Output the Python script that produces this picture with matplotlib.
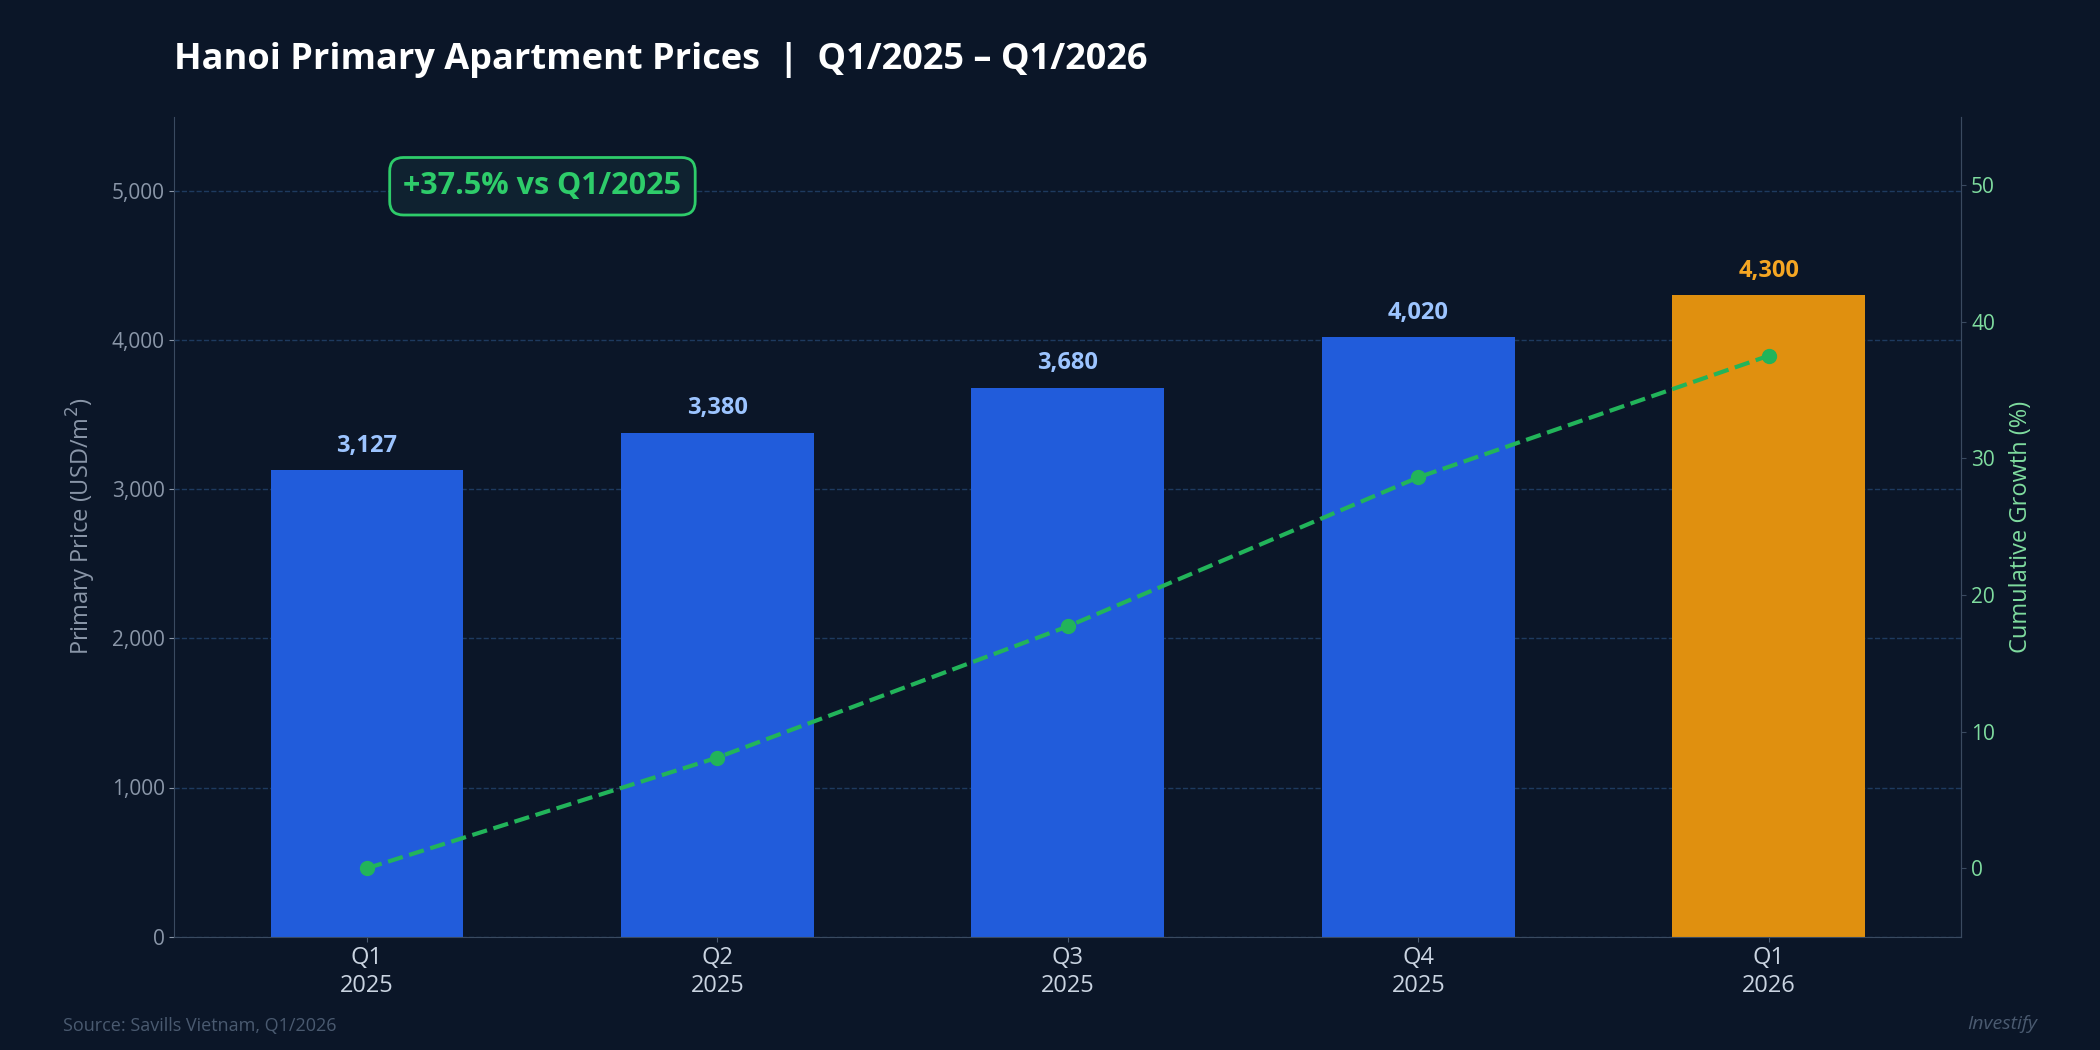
import matplotlib
matplotlib.use("Agg")
import matplotlib.pyplot as plt

plt.rcParams['font.family'] = ['Open Sans', 'DejaVu Sans']

categories = ["Q1\n2025", "Q2\n2025", "Q3\n2025", "Q4\n2025", "Q1\n2026"]
prices = [3127, 3380, 3680, 4020, 4300]
growth = [0, 8.1, 17.7, 28.6, 37.5]
price_labels = ["3,127", "3,380", "3,680", "4,020", "4,300"]

BG = "#0b1628"
fig = plt.figure(figsize=(21, 10.5), dpi=100, facecolor=BG)
ax = fig.add_axes([0.083, 0.108, 0.851, 0.781], facecolor=BG)
x = list(range(len(categories)))
colors = ["#215cdb"] * 4 + ["#e0900f"]
ax.bar(x, prices, width=0.55, color=colors, zorder=2)
for i, (p, lab) in enumerate(zip(prices, price_labels)):
    ax.text(i, p + 85, lab, ha="center", va="bottom", fontsize=17, fontweight="bold",
            color="#f5a623" if i == 4 else "#9cc4ff", zorder=4)
ax.set_ylim(0, 5500)
ax.set_xlim(-0.55, 4.55)
ax.set_yticks([0, 1000, 2000, 3000, 4000, 5000])
ax.set_yticklabels(["0", "1,000", "2,000", "3,000", "4,000", "5,000"])
ax.set_xticks(x)
ax.set_xticklabels(categories, fontsize=17, color="#c9d3e0")
ax.grid(axis="y", color="#1e3a5f", linestyle="--", linewidth=1, zorder=0)
ax.tick_params(axis="y", colors="#8a96a8", labelsize=15)
ax.tick_params(axis="x", colors="#4a5a70")
for lbl in ax.get_xticklabels():
    lbl.set_color("#c9d3e0")
for lbl in ax.get_yticklabels():
    lbl.set_color("#8a96a8")
ax.set_ylabel("Primary Price (USD/m$^2$)", color="#8a96a8", fontsize=17, labelpad=10)
ax.spines["top"].set_visible(False)
for s in ["left", "bottom", "right"]:
    ax.spines[s].set_color("#3a4a60")

ax2 = ax.twinx()
ax2.plot(x, growth, color="#22b45a", linestyle="--", linewidth=3, marker="o",
         markersize=10, zorder=5)
ax2.set_ylim(-5, 55)
ax2.set_yticks([0, 10, 20, 30, 40, 50])
ax2.tick_params(axis="y", colors="#3a4a60", labelsize=15)
for lbl in ax2.get_yticklabels():
    lbl.set_color("#7fdc9f")
ax2.set_ylabel("Cumulative Growth (%)", color="#7fdc9f", fontsize=17, labelpad=10)
ax2.spines["top"].set_visible(False)
ax2.spines["right"].set_color("#3a4a60")
ax2.spines["left"].set_visible(False)
ax2.spines["bottom"].set_visible(False)

ax.text(0.206, 0.915, "+37.5% vs Q1/2025", transform=ax.transAxes, ha="center", va="center",
        fontsize=22, fontweight="bold", color="#2ecc6a", zorder=6,
        bbox=dict(boxstyle="round,pad=0.45", facecolor="#0f2230", edgecolor="#2ecc6a", linewidth=2))

fig.text(0.083, 0.943, "Hanoi Primary Apartment Prices  |  Q1/2025 \u2013 Q1/2026",
         fontsize=26, fontweight="bold", color="white", va="center")
fig.text(0.030, 0.023, "Source: Savills Vietnam, Q1/2026", fontsize=13, color="#4a5a70", va="center")
fig.text(0.970, 0.025, "Investify", fontsize=14, color="#4a5a70", style="italic", ha="right", va="center")

fig.savefig("out.png", dpi=100, facecolor=BG)
